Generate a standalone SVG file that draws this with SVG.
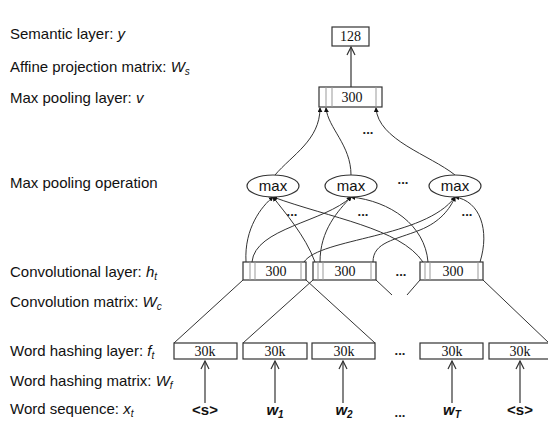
<svg xmlns="http://www.w3.org/2000/svg" width="548" height="423" viewBox="0 0 548 423">
  <style>
    .lbl { font-family: "Liberation Sans", Arial, sans-serif; font-size: 15px; fill: #111; }
    .var { font-style: italic; }
    .sub { font-size: 10px; font-style: italic; }
    .num { font-family: "Liberation Serif", "Times New Roman", serif; font-size: 14px; fill: #111; text-anchor: middle; }
    .mx { font-family: "Liberation Sans", Arial, sans-serif; font-size: 15px; fill: #111; text-anchor: middle; }
    .dots { font-family: "Liberation Sans", Arial, sans-serif; font-size: 13px; font-weight: bold; fill: #222; text-anchor: middle; }
    .word { font-family: "Liberation Sans", Arial, sans-serif; font-size: 15px; font-weight: bold; fill: #111; text-anchor: middle; }
    .box { fill: #fff; stroke: #333; stroke-width: 1.2; }
    .cell { stroke: #999; stroke-width: 1; }
    .edge { fill: none; stroke: #333; stroke-width: 1; }
    .arr { fill: none; stroke: #333; stroke-width: 1.2; }
  </style>
  <defs>
    <marker id="dot-head" viewBox="0 0 6 6" refX="5" refY="3" markerWidth="5" markerHeight="5" markerUnits="userSpaceOnUse" orient="auto">
      <path d="M0,0 L6,3 L0,6 z" fill="#111"/>
    </marker>
    <marker id="open-head" viewBox="0 0 10 10" refX="9" refY="5" markerWidth="10" markerHeight="10" markerUnits="userSpaceOnUse" orient="auto">
      <path d="M1,1 L9,5 L1,9" fill="none" stroke="#333" stroke-width="1.2"/>
    </marker>
  </defs>

  <!-- layer captions on the left -->
  <g id="captions">
    <text class="lbl" x="10" y="39">Semantic layer: <tspan class="var">y</tspan></text>
    <text class="lbl" x="10" y="72">Affine projection matrix: <tspan class="var">W</tspan><tspan class="sub" dy="3">s</tspan></text>
    <text class="lbl" x="10" y="103">Max pooling layer: <tspan class="var">v</tspan></text>
    <text class="lbl" x="10" y="188">Max pooling operation</text>
    <text class="lbl" x="10" y="277">Convolutional layer: <tspan class="var">h</tspan><tspan class="sub" dy="3">t</tspan></text>
    <text class="lbl" x="10" y="307">Convolution matrix: <tspan class="var">W</tspan><tspan class="sub" dy="3">c</tspan></text>
    <text class="lbl" x="10" y="356">Word hashing layer: <tspan class="var">f</tspan><tspan class="sub" dy="3">t</tspan></text>
    <text class="lbl" x="10" y="386">Word hashing matrix: <tspan class="var">W</tspan><tspan class="sub" dy="3">f</tspan></text>
    <text class="lbl" x="10" y="414">Word sequence: <tspan class="var">x</tspan><tspan class="sub" dy="3">t</tspan></text>
  </g>

  <!-- connectors -->
  <g id="connectors">
    <!-- pooling vector to semantic layer -->
    <line class="arr" x1="351" y1="87" x2="351" y2="47" marker-end="url(#open-head)"/>
    <!-- max operations to pooling vector -->
    <path class="edge" d="M275,175 C292,155 320,140 320,108" marker-end="url(#dot-head)"/>
    <path class="edge" d="M351,175 C351,145 328,128 326,108" marker-end="url(#dot-head)"/>
    <path class="edge" d="M455,175 C430,155 378,140 376,108" marker-end="url(#dot-head)"/>
    <!-- convolutional cells to max operations -->
    <path class="edge" d="M246,262 C244,228 262,206 273,197" marker-end="url(#dot-head)"/>
    <path class="edge" d="M315,262 C305,235 285,213 273,197" marker-end="url(#dot-head)"/>
    <path class="edge" d="M423,262 C400,228 330,218 273,197" marker-end="url(#dot-head)"/>
    <path class="edge" d="M252,262 C255,228 325,222 351,197" marker-end="url(#dot-head)"/>
    <path class="edge" d="M320,262 C320,230 338,211 351,197" marker-end="url(#dot-head)"/>
    <path class="edge" d="M428,262 C425,225 390,201 351,197" marker-end="url(#dot-head)"/>
    <path class="edge" d="M304,262 C320,238 425,238 455,197" marker-end="url(#dot-head)"/>
    <path class="edge" d="M373,262 C373,242 395,240 420,230 C440,222 450,209 455,197" marker-end="url(#dot-head)"/>
    <path class="edge" d="M480,262 C490,230 480,201 455,197" marker-end="url(#dot-head)"/>
    <!-- convolution windows over hashed words -->
    <line class="edge" x1="243" y1="280" x2="174" y2="343"/>
    <line class="edge" x1="306" y1="280" x2="375" y2="343"/>
    <line class="edge" x1="313" y1="280" x2="243" y2="343"/>
    <line class="edge" x1="376" y1="280" x2="392" y2="295"/>
    <line class="edge" x1="420" y1="280" x2="407" y2="295"/>
    <line class="edge" x1="483" y1="280" x2="550" y2="344"/>
    <!-- words to hashing vectors -->
    <line class="arr" x1="205" y1="403" x2="205" y2="361" marker-end="url(#open-head)"/>
    <line class="arr" x1="275" y1="403" x2="275" y2="361" marker-end="url(#open-head)"/>
    <line class="arr" x1="343" y1="403" x2="343" y2="361" marker-end="url(#open-head)"/>
    <line class="arr" x1="452" y1="403" x2="452" y2="361" marker-end="url(#open-head)"/>
    <line class="arr" x1="520" y1="403" x2="520" y2="361" marker-end="url(#open-head)"/>
  </g>

  <!-- semantic layer -->
  <g id="semantic">
    <rect class="box" x="332" y="27" width="37" height="19"/>
    <text class="num" x="350.5" y="41">128</text>
  </g>

  <!-- max pooling layer -->
  <g id="pooling">
    <rect class="box" x="319" y="87" width="63" height="20"/>
    <line class="cell" x1="326" y1="87" x2="326" y2="107"/>
    <line class="cell" x1="332" y1="87" x2="332" y2="107"/>
    <line class="cell" x1="376" y1="87" x2="376" y2="107"/>
    <text class="num" x="352" y="102">300</text>
  </g>
  <text class="dots" x="368" y="134">...</text>

  <!-- max pooling operations -->
  <g id="max1">
    <ellipse class="box" cx="273" cy="186" rx="26" ry="11"/>
    <text class="mx" x="273" y="191">max</text>
  </g>
  <g id="max2">
    <ellipse class="box" cx="351" cy="186" rx="26" ry="11"/>
    <text class="mx" x="351" y="191">max</text>
  </g>
  <g id="max3">
    <ellipse class="box" cx="455" cy="186" rx="26" ry="11"/>
    <text class="mx" x="455" y="191">max</text>
  </g>
  <text class="dots" x="403" y="184">...</text>
  <text class="dots" x="292" y="216">...</text>
  <text class="dots" x="363" y="216">...</text>
  <text class="dots" x="467" y="216">...</text>

  <!-- convolutional layer -->
  <g id="conv1">
    <rect class="box" x="243" y="262" width="63" height="18"/>
    <line class="cell" x1="250" y1="262" x2="250" y2="280"/>
    <line class="cell" x1="255" y1="262" x2="255" y2="280"/>
    <line class="cell" x1="301" y1="262" x2="301" y2="280"/>
    <text class="num" x="276" y="276">300</text>
  </g>
  <g id="conv2">
    <rect class="box" x="313" y="262" width="63" height="18"/>
    <line class="cell" x1="318" y1="262" x2="318" y2="280"/>
    <line class="cell" x1="323" y1="262" x2="323" y2="280"/>
    <line class="cell" x1="371" y1="262" x2="371" y2="280"/>
    <text class="num" x="345" y="276">300</text>
  </g>
  <g id="conv3">
    <rect class="box" x="420" y="262" width="63" height="18"/>
    <line class="cell" x1="425" y1="262" x2="425" y2="280"/>
    <line class="cell" x1="430" y1="262" x2="430" y2="280"/>
    <line class="cell" x1="478" y1="262" x2="478" y2="280"/>
    <text class="num" x="453" y="276">300</text>
  </g>
  <text class="dots" x="401" y="276">...</text>

  <!-- word hashing layer -->
  <g id="hash1">
    <rect class="box" x="174" y="343" width="63" height="16"/>
    <text class="num" x="205" y="356">30k</text>
  </g>
  <g id="hash2">
    <rect class="box" x="243" y="343" width="64" height="16"/>
    <text class="num" x="275" y="356">30k</text>
  </g>
  <g id="hash3">
    <rect class="box" x="312" y="343" width="63" height="16"/>
    <text class="num" x="344" y="356">30k</text>
  </g>
  <g id="hash4">
    <rect class="box" x="420" y="343" width="63" height="16"/>
    <text class="num" x="452" y="356">30k</text>
  </g>
  <g id="hash5">
    <rect class="box" x="489" y="343" width="63" height="16"/>
    <text class="num" x="520" y="356">30k</text>
  </g>
  <text class="dots" x="400" y="355">...</text>

  <!-- word sequence -->
  <g id="words">
    <text class="word" x="205" y="415">&lt;s&gt;</text>
    <text class="word" x="275" y="415"><tspan font-style="italic">w</tspan><tspan font-size="10" font-style="italic" dy="3">1</tspan></text>
    <text class="word" x="344" y="415"><tspan font-style="italic">w</tspan><tspan font-size="10" font-style="italic" dy="3">2</tspan></text>
    <text class="dots" x="400" y="417">...</text>
    <text class="word" x="452" y="415"><tspan font-style="italic">w</tspan><tspan font-size="10" font-style="italic" dy="3">T</tspan></text>
    <text class="word" x="520" y="415">&lt;s&gt;</text>
  </g>
</svg>
